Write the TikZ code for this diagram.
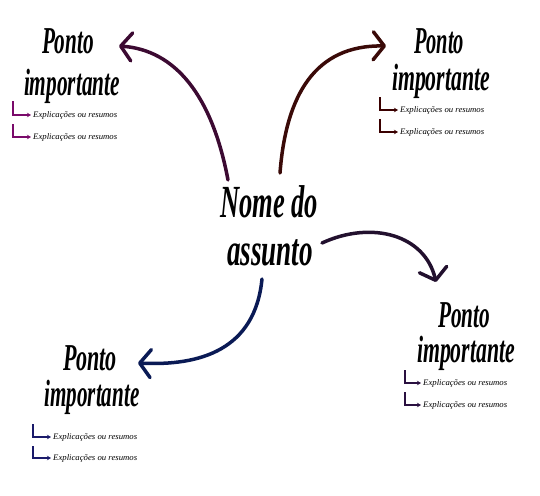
\documentclass[tikz,border=0pt]{standalone}
\usepackage{fontspec}
\newfontfamily\brushfont{Liberation Serif}
\usetikzlibrary{arrows.meta}
\definecolor{cTL}{HTML}{3C0A32}
\definecolor{cTR}{HTML}{3A0A08}
\definecolor{cBR}{HTML}{22102E}
\definecolor{cBL}{HTML}{0A1A55}
\definecolor{lTL}{HTML}{7A0A6A}
\definecolor{lTR}{HTML}{3A0000}
\definecolor{lBR}{HTML}{2A1040}
\definecolor{lBL}{HTML}{1A1A6A}
\newcommand{\brushtxt}[3]{\resizebox{#1}{\height}{\fontsize{#2}{#2}\brushfont\bfseries\itshape\selectfont #3}}
\newcommand{\subtxt}{\resizebox{84pt}{\height}{\fontsize{8.5}{8.5}\brushfont\itshape\selectfont Explicações ou resumos}}
\tikzset{
  title/.style={anchor=base,inner sep=0pt,text=black},
  sub/.style={anchor=west,inner sep=2pt,text=black},
  branch/.style={line width=3.5pt,line cap=round,-{Straight Barb[length=11pt,width=28pt,line width=3.5pt,round]}},
  larrow/.style={line width=1.8pt,-{Stealth[length=4pt,width=4.5pt]}},
}
\begin{document}
\begin{tikzpicture}[x=1pt,y=-1pt]
\useasboundingbox (0,0) rectangle (540,495);
% centre
\node[title] (c1) at (269,217) {\brushtxt{98pt}{46}{Nome do}};
\node[title] (c2) at (270,265) {\brushtxt{86pt}{46}{assunto}};
% top-left
\node[title] (tl1) at (68,53) {\brushtxt{52pt}{38}{Ponto}};
\node[title] (tl2) at (72,95) {\brushtxt{96pt}{38}{importante}};
\node[sub] (tla) at (31,115) {\subtxt};
\node[sub] (tlb) at (31,137) {\subtxt};
\coordinate (tlLa) at (13,101);
\coordinate (tlLb) at (13,124);
\draw[larrow,lTL] (tlLa) |- (tla.west);
\draw[larrow,lTL] (tlLb) |- (tlb.west);
% top-right
\node[title] (tr1) at (439,53) {\brushtxt{50pt}{38}{Ponto}};
\node[title] (tr2) at (441,90) {\brushtxt{98pt}{38}{importante}};
\node[sub] (tra) at (398,110) {\subtxt};
\node[sub] (trb) at (398,132) {\subtxt};
\coordinate (trLa) at (380,97);
\coordinate (trLb) at (380,119);
\draw[larrow,lTR] (trLa) |- (tra.west);
\draw[larrow,lTR] (trLb) |- (trb.west);
% bottom-right
\node[title] (br1) at (464,327) {\brushtxt{52pt}{38}{Ponto}};
\node[title] (br2) at (466,362) {\brushtxt{98pt}{38}{importante}};
\node[sub] (bra) at (421,383) {\subtxt};
\node[sub] (brb) at (421,405) {\subtxt};
\coordinate (brLa) at (405,370);
\coordinate (brLb) at (405,392);
\draw[larrow,lBR] (brLa) |- (bra.west);
\draw[larrow,lBR] (brLb) |- (brb.west);
% bottom-left
\node[title] (bl1) at (90,370) {\brushtxt{54pt}{38}{Ponto}};
\node[title] (bl2) at (92,406) {\brushtxt{95pt}{38}{importante}};
\node[sub] (bla) at (51,437) {\subtxt};
\node[sub] (blb) at (51,458) {\subtxt};
\coordinate (blLa) at (33,424);
\coordinate (blLb) at (33,446);
\draw[larrow,lBL] (blLa) |- (bla.west);
\draw[larrow,lBL] (blLb) |- (blb.west);
% branch connectors
\coordinate (sTL) at (228,180);
\coordinate (eTL) at (119,46);
\coordinate (sTR) at (280,173);
\coordinate (eTR) at (386,46);
\coordinate (sBR) at (322,243);
\coordinate (eBR) at (436,282);
\coordinate (sBL) at (262,279);
\coordinate (eBL) at (138,363);
\draw[branch,cTL] (sTL) .. controls (212,95) and (175,50) .. (eTL);
\draw[branch,cTR] (sTR) .. controls (286,95) and (315,45) .. (eTR);
\draw[branch,cBR] (sBR) .. controls (372,220) and (425,235) .. (eBR);
\draw[branch,cBL] (sBL) .. controls (255,350) and (200,366) .. (eBL);
\end{tikzpicture}
\end{document}
